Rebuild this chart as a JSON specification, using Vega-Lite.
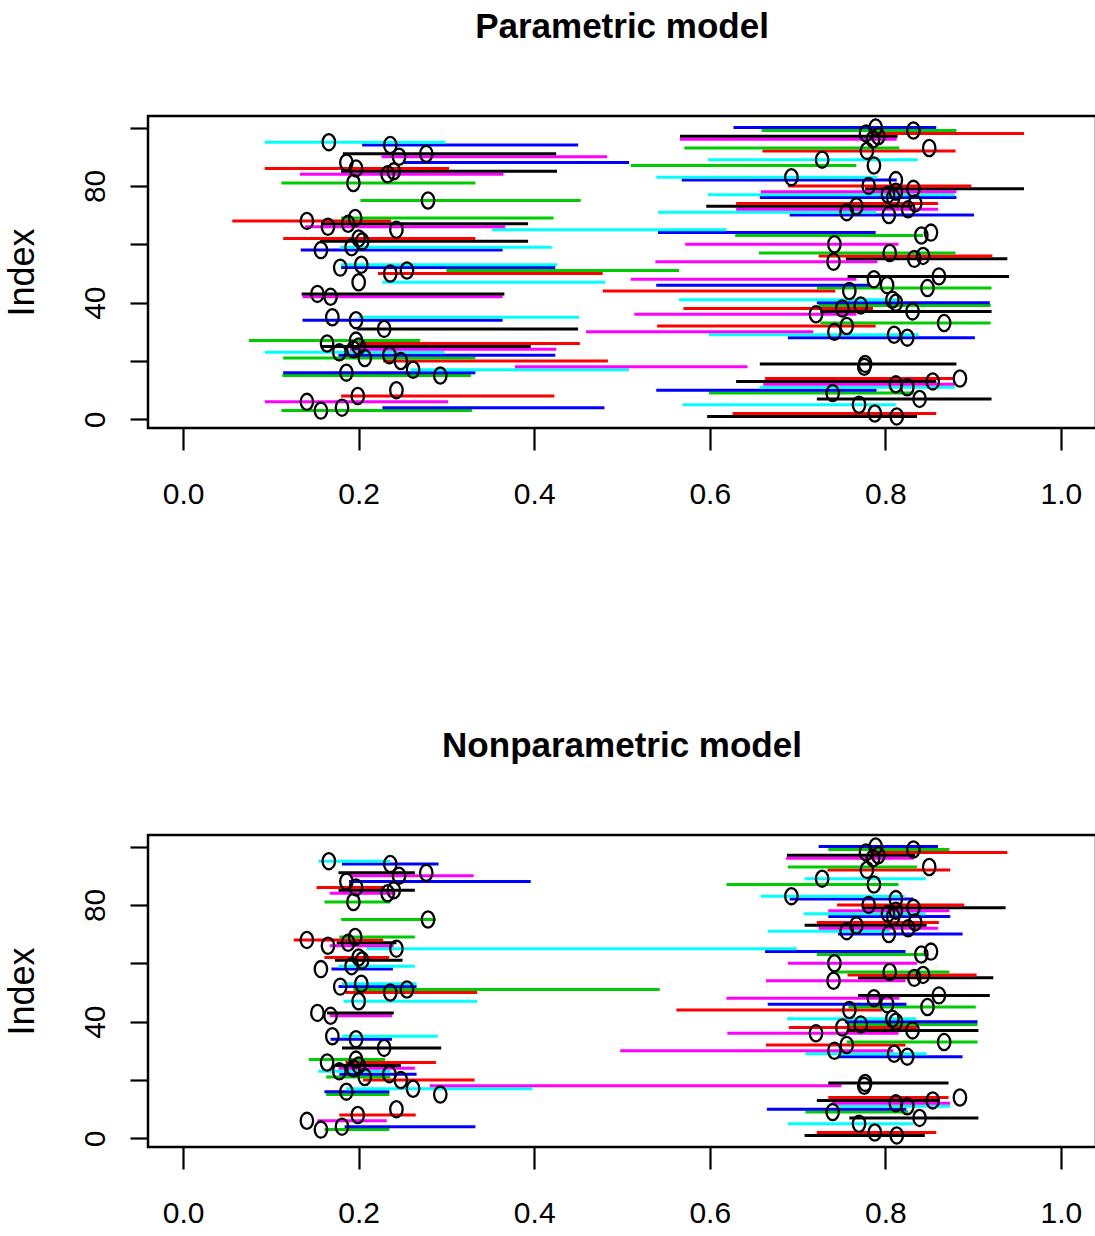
{
  "$schema": "https://vega.github.io/schema/vega-lite/v6.json",
  "background": "white",
  "padding": {"left": 2, "top": 8, "right": 0, "bottom": 0},
  "spacing": 407,
  "bounds": "flush",
  "config": {
    "view": {"stroke": "black", "strokeWidth": 2.5},
    "axis": {"grid": false, "domain": false, "tickColor": "black", "tickWidth": 2.2, "labelColor": "black", "labelFont": "Liberation Sans", "labelFontSize": 30, "titleColor": "black", "labelFlush": false, "labelOverlap": false},
    "title": {"font": "Liberation Sans", "fontSize": 35, "fontWeight": "bold", "color": "black", "anchor": "middle", "baseline": "bottom", "offset": 70}
  },
  "datasets": {
    "ci": [
      {"i":1,"g":1,"est":0.813,"lo1":0.597,"hi1":0.836,"lo2":0.708,"hi2":0.845},
      {"i":2,"g":2,"est":0.788,"lo1":0.626,"hi1":0.858,"lo2":0.722,"hi2":0.858},
      {"i":3,"g":3,"est":0.157,"lo1":0.112,"hi1":0.329,"lo2":0.161,"hi2":0.235},
      {"i":4,"g":4,"est":0.181,"lo1":0.227,"hi1":0.480,"lo2":0.184,"hi2":0.333},
      {"i":5,"g":5,"est":0.770,"lo1":0.569,"hi1":0.812,"lo2":0.689,"hi2":0.832},
      {"i":6,"g":6,"est":0.141,"lo1":0.093,"hi1":0.302,"lo2":0.153,"hi2":0.232},
      {"i":7,"g":1,"est":0.839,"lo1":0.722,"hi1":0.921,"lo2":0.759,"hi2":0.906},
      {"i":8,"g":2,"est":0.199,"lo1":0.180,"hi1":0.423,"lo2":0.178,"hi2":0.265},
      {"i":9,"g":3,"est":0.740,"lo1":0.599,"hi1":0.832,"lo2":0.709,"hi2":0.826},
      {"i":10,"g":4,"est":0.243,"lo1":0.539,"hi1":0.790,"lo2":0.665,"hi2":0.824},
      {"i":11,"g":5,"est":0.825,"lo1":0.657,"hi1":0.879,"lo2":0.745,"hi2":0.874},
      {"i":12,"g":6,"est":0.812,"lo1":0.661,"hi1":0.879,"lo2":0.739,"hi2":0.874},
      {"i":13,"g":1,"est":0.854,"lo1":0.630,"hi1":0.858,"lo2":0.722,"hi2":0.860},
      {"i":14,"g":2,"est":0.885,"lo1":0.663,"hi1":0.879,"lo2":0.735,"hi2":0.872},
      {"i":15,"g":3,"est":0.293,"lo1":0.113,"hi1":0.328,"lo2":0.163,"hi2":0.235},
      {"i":16,"g":4,"est":0.186,"lo1":0.114,"hi1":0.333,"lo2":0.161,"hi2":0.235},
      {"i":17,"g":5,"est":0.262,"lo1":0.259,"hi1":0.508,"lo2":0.186,"hi2":0.398},
      {"i":18,"g":6,"est":0.776,"lo1":0.378,"hi1":0.643,"lo2":0.281,"hi2":0.750},
      {"i":19,"g":1,"est":0.777,"lo1":0.657,"hi1":0.881,"lo2":0.735,"hi2":0.872},
      {"i":20,"g":2,"est":0.248,"lo1":0.228,"hi1":0.484,"lo2":0.205,"hi2":0.332},
      {"i":21,"g":3,"est":0.207,"lo1":0.114,"hi1":0.333,"lo2":0.163,"hi2":0.236},
      {"i":22,"g":4,"est":0.235,"lo1":0.177,"hi1":0.424,"lo2":0.178,"hi2":0.266},
      {"i":23,"g":5,"est":0.178,"lo1":0.093,"hi1":0.298,"lo2":0.154,"hi2":0.236},
      {"i":24,"g":6,"est":0.194,"lo1":0.190,"hi1":0.425,"lo2":0.177,"hi2":0.264},
      {"i":25,"g":1,"est":0.200,"lo1":0.158,"hi1":0.396,"lo2":0.174,"hi2":0.248},
      {"i":26,"g":2,"est":0.164,"lo1":0.200,"hi1":0.452,"lo2":0.185,"hi2":0.288},
      {"i":27,"g":3,"est":0.197,"lo1":0.075,"hi1":0.270,"lo2":0.143,"hi2":0.230},
      {"i":28,"g":4,"est":0.825,"lo1":0.689,"hi1":0.902,"lo2":0.746,"hi2":0.888},
      {"i":29,"g":5,"est":0.810,"lo1":0.599,"hi1":0.838,"lo2":0.709,"hi2":0.847},
      {"i":30,"g":6,"est":0.742,"lo1":0.459,"hi1":0.718,"lo2":0.498,"hi2":0.809},
      {"i":31,"g":1,"est":0.229,"lo1":0.198,"hi1":0.450,"lo2":0.181,"hi2":0.294},
      {"i":32,"g":2,"est":0.756,"lo1":0.540,"hi1":0.789,"lo2":0.664,"hi2":0.823},
      {"i":33,"g":3,"est":0.867,"lo1":0.726,"hi1":0.920,"lo2":0.756,"hi2":0.905},
      {"i":34,"g":4,"est":0.197,"lo1":0.136,"hi1":0.364,"lo2":0.168,"hi2":0.238},
      {"i":35,"g":5,"est":0.170,"lo1":0.200,"hi1":0.451,"lo2":0.181,"hi2":0.290},
      {"i":36,"g":6,"est":0.721,"lo1":0.514,"hi1":0.767,"lo2":0.620,"hi2":0.815},
      {"i":37,"g":1,"est":0.831,"lo1":0.726,"hi1":0.921,"lo2":0.756,"hi2":0.906},
      {"i":38,"g":2,"est":0.751,"lo1":0.570,"hi1":0.786,"lo2":0.690,"hi2":0.836},
      {"i":39,"g":3,"est":0.772,"lo1":0.724,"hi1":0.920,"lo2":0.757,"hi2":0.905},
      {"i":40,"g":4,"est":0.812,"lo1":0.722,"hi1":0.919,"lo2":0.754,"hi2":0.905},
      {"i":41,"g":5,"est":0.808,"lo1":0.565,"hi1":0.815,"lo2":0.688,"hi2":0.835},
      {"i":42,"g":6,"est":0.168,"lo1":0.136,"hi1":0.364,"lo2":0.167,"hi2":0.238},
      {"i":43,"g":1,"est":0.153,"lo1":0.135,"hi1":0.366,"lo2":0.164,"hi2":0.240},
      {"i":44,"g":2,"est":0.759,"lo1":0.478,"hi1":0.743,"lo2":0.562,"hi2":0.796},
      {"i":45,"g":3,"est":0.848,"lo1":0.722,"hi1":0.921,"lo2":0.758,"hi2":0.903},
      {"i":46,"g":4,"est":0.802,"lo1":0.539,"hi1":0.783,"lo2":0.666,"hi2":0.824},
      {"i":47,"g":5,"est":0.200,"lo1":0.227,"hi1":0.481,"lo2":0.183,"hi2":0.335},
      {"i":48,"g":6,"est":0.787,"lo1":0.510,"hi1":0.767,"lo2":0.619,"hi2":0.816},
      {"i":49,"g":1,"est":0.861,"lo1":0.757,"hi1":0.941,"lo2":0.769,"hi2":0.919},
      {"i":50,"g":2,"est":0.236,"lo1":0.222,"hi1":0.478,"lo2":0.185,"hi2":0.335},
      {"i":51,"g":3,"est":0.255,"lo1":0.300,"hi1":0.565,"lo2":0.194,"hi2":0.543},
      {"i":52,"g":4,"est":0.179,"lo1":0.180,"hi1":0.424,"lo2":0.177,"hi2":0.266},
      {"i":53,"g":5,"est":0.203,"lo1":0.180,"hi1":0.426,"lo2":0.181,"hi2":0.266},
      {"i":54,"g":6,"est":0.741,"lo1":0.538,"hi1":0.791,"lo2":0.664,"hi2":0.823},
      {"i":55,"g":1,"est":0.833,"lo1":0.755,"hi1":0.939,"lo2":0.769,"hi2":0.923},
      {"i":56,"g":2,"est":0.843,"lo1":0.724,"hi1":0.922,"lo2":0.757,"hi2":0.904},
      {"i":57,"g":3,"est":0.805,"lo1":0.656,"hi1":0.880,"lo2":0.745,"hi2":0.873},
      {"i":58,"g":4,"est":0.157,"lo1":0.134,"hi1":0.364,"lo2":0.169,"hi2":0.239},
      {"i":59,"g":5,"est":0.192,"lo1":0.179,"hi1":0.420,"lo2":0.177,"hi2":0.264},
      {"i":60,"g":6,"est":0.742,"lo1":0.572,"hi1":0.815,"lo2":0.689,"hi2":0.836},
      {"i":61,"g":1,"est":0.204,"lo1":0.156,"hi1":0.393,"lo2":0.173,"hi2":0.250},
      {"i":62,"g":2,"est":0.200,"lo1":0.114,"hi1":0.333,"lo2":0.161,"hi2":0.235},
      {"i":63,"g":3,"est":0.841,"lo1":0.629,"hi1":0.843,"lo2":0.722,"hi2":0.847},
      {"i":64,"g":4,"est":0.852,"lo1":0.541,"hi1":0.789,"lo2":0.663,"hi2":0.823},
      {"i":65,"g":5,"est":0.243,"lo1":0.352,"hi1":0.619,"lo2":0.209,"hi2":0.699},
      {"i":66,"g":6,"est":0.165,"lo1":0.139,"hi1":0.367,"lo2":0.167,"hi2":0.240},
      {"i":67,"g":1,"est":0.188,"lo1":0.157,"hi1":0.393,"lo2":0.175,"hi2":0.243},
      {"i":68,"g":2,"est":0.141,"lo1":0.056,"hi1":0.237,"lo2":0.126,"hi2":0.228},
      {"i":69,"g":3,"est":0.196,"lo1":0.180,"hi1":0.422,"lo2":0.178,"hi2":0.264},
      {"i":70,"g":4,"est":0.804,"lo1":0.691,"hi1":0.901,"lo2":0.746,"hi2":0.888},
      {"i":71,"g":5,"est":0.756,"lo1":0.541,"hi1":0.790,"lo2":0.666,"hi2":0.805},
      {"i":72,"g":6,"est":0.826,"lo1":0.630,"hi1":0.860,"lo2":0.724,"hi2":0.860},
      {"i":73,"g":1,"est":0.767,"lo1":0.596,"hi1":0.831,"lo2":0.708,"hi2":0.847},
      {"i":74,"g":2,"est":0.834,"lo1":0.630,"hi1":0.860,"lo2":0.722,"hi2":0.861},
      {"i":75,"g":3,"est":0.279,"lo1":0.202,"hi1":0.453,"lo2":0.180,"hi2":0.288},
      {"i":76,"g":4,"est":0.809,"lo1":0.657,"hi1":0.881,"lo2":0.735,"hi2":0.874},
      {"i":77,"g":5,"est":0.803,"lo1":0.598,"hi1":0.879,"lo2":0.707,"hi2":0.846},
      {"i":78,"g":6,"est":0.812,"lo1":0.658,"hi1":0.881,"lo2":0.735,"hi2":0.873},
      {"i":79,"g":1,"est":0.832,"lo1":0.777,"hi1":0.958,"lo2":0.775,"hi2":0.937},
      {"i":80,"g":2,"est":0.781,"lo1":0.689,"hi1":0.898,"lo2":0.745,"hi2":0.890},
      {"i":81,"g":3,"est":0.194,"lo1":0.112,"hi1":0.333,"lo2":0.161,"hi2":0.236},
      {"i":82,"g":4,"est":0.812,"lo1":0.568,"hi1":0.813,"lo2":0.691,"hi2":0.832},
      {"i":83,"g":5,"est":0.693,"lo1":0.539,"hi1":0.791,"lo2":0.658,"hi2":0.822},
      {"i":84,"g":6,"est":0.233,"lo1":0.133,"hi1":0.365,"lo2":0.167,"hi2":0.242},
      {"i":85,"g":1,"est":0.240,"lo1":0.180,"hi1":0.426,"lo2":0.177,"hi2":0.264},
      {"i":86,"g":2,"est":0.197,"lo1":0.093,"hi1":0.303,"lo2":0.152,"hi2":0.230},
      {"i":87,"g":3,"est":0.787,"lo1":0.510,"hi1":0.767,"lo2":0.619,"hi2":0.815},
      {"i":88,"g":4,"est":0.186,"lo1":0.251,"hi1":0.508,"lo2":0.189,"hi2":0.396},
      {"i":89,"g":5,"est":0.728,"lo1":0.598,"hi1":0.837,"lo2":0.708,"hi2":0.846},
      {"i":90,"g":6,"est":0.246,"lo1":0.226,"hi1":0.483,"lo2":0.190,"hi2":0.331},
      {"i":91,"g":1,"est":0.277,"lo1":0.182,"hi1":0.425,"lo2":0.177,"hi2":0.264},
      {"i":92,"g":2,"est":0.779,"lo1":0.660,"hi1":0.880,"lo2":0.734,"hi2":0.874},
      {"i":93,"g":3,"est":0.850,"lo1":0.571,"hi1":0.816,"lo2":0.689,"hi2":0.836},
      {"i":94,"g":4,"est":0.236,"lo1":0.204,"hi1":0.450,"lo2":0.181,"hi2":0.291},
      {"i":95,"g":5,"est":0.166,"lo1":0.093,"hi1":0.299,"lo2":0.154,"hi2":0.236},
      {"i":96,"g":6,"est":0.786,"lo1":0.566,"hi1":0.813,"lo2":0.687,"hi2":0.832},
      {"i":97,"g":1,"est":0.792,"lo1":0.566,"hi1":0.814,"lo2":0.688,"hi2":0.834},
      {"i":98,"g":2,"est":0.778,"lo1":0.783,"hi1":0.958,"lo2":0.783,"hi2":0.939},
      {"i":99,"g":3,"est":0.832,"lo1":0.659,"hi1":0.881,"lo2":0.735,"hi2":0.873},
      {"i":100,"g":4,"est":0.789,"lo1":0.627,"hi1":0.858,"lo2":0.724,"hi2":0.860}
    ]
  },
  "vconcat": [
    {
      "title": "Parametric model",
      "width": 948,
      "height": 312,
      "data": {"name": "ci"},
      "encoding": {
        "y": {"field": "i", "type": "quantitative",
              "scale": {"domain": [-2.96, 103.96], "nice": false, "zero": false},
              "axis": {"values": [0, 20, 40, 60, 80, 100], "labelExpr": "datum.value % 40 == 0 ? datum.label : ''", "title": "Index", "tickSize": 18, "labelAngle": -90, "labelAlign": "center", "labelBaseline": "alphabetic", "labelPadding": 26, "titleFont": "Liberation Sans", "titleFontSize": 36, "titleFontWeight": "normal", "titleAngle": -90, "titleX": -126, "titleY": 156, "titleAlign": "center", "titleBaseline": "middle"}}
      },
      "layer": [
        {
          "mark": {"type": "rule", "strokeWidth": 3},
          "encoding": {
            "x": {"field": "lo1", "type": "quantitative",
                  "scale": {"domain": [-0.04, 1.04], "nice": false, "zero": false},
                  "axis": {"values": [0, 0.2, 0.4, 0.6, 0.8, 1], "format": ".1f", "title": null, "tickSize": 22, "labelPadding": 29}},
            "x2": {"field": "hi1"},
            "color": {"field": "g", "type": "nominal", "scale": {"domain": [1, 2, 3, 4, 5, 6], "range": ["#000000", "#FF0000", "#00CD00", "#0000FF", "#00FFFF", "#FF00FF"]}, "legend": null}
          }
        },
        {
          "mark": {"type": "point", "shape": "M0,-1.3A1,1.3 0 1,1 0,1.3A1,1.3 0 1,1 0,-1.3Z", "filled": false, "stroke": "black", "strokeWidth": 2.3, "size": 155, "opacity": 1},
          "encoding": {
            "x": {"field": "est", "type": "quantitative",
                  "scale": {"domain": [-0.04, 1.04], "nice": false, "zero": false},
                  "axis": {"values": [0, 0.2, 0.4, 0.6, 0.8, 1], "format": ".1f", "title": null, "tickSize": 22, "labelPadding": 29}}
          }
        }
      ]
    },
    {
      "title": "Nonparametric model",
      "width": 948,
      "height": 312,
      "data": {"name": "ci"},
      "encoding": {
        "y": {"field": "i", "type": "quantitative",
              "scale": {"domain": [-2.96, 103.96], "nice": false, "zero": false},
              "axis": {"values": [0, 20, 40, 60, 80, 100], "labelExpr": "datum.value % 40 == 0 ? datum.label : ''", "title": "Index", "tickSize": 18, "labelAngle": -90, "labelAlign": "center", "labelBaseline": "alphabetic", "labelPadding": 26, "titleFont": "Liberation Sans", "titleFontSize": 36, "titleFontWeight": "normal", "titleAngle": -90, "titleX": -126, "titleY": 156, "titleAlign": "center", "titleBaseline": "middle"}}
      },
      "layer": [
        {
          "mark": {"type": "rule", "strokeWidth": 3},
          "encoding": {
            "x": {"field": "lo2", "type": "quantitative",
                  "scale": {"domain": [-0.04, 1.04], "nice": false, "zero": false},
                  "axis": {"values": [0, 0.2, 0.4, 0.6, 0.8, 1], "format": ".1f", "title": null, "tickSize": 22, "labelPadding": 29}},
            "x2": {"field": "hi2"},
            "color": {"field": "g", "type": "nominal", "scale": {"domain": [1, 2, 3, 4, 5, 6], "range": ["#000000", "#FF0000", "#00CD00", "#0000FF", "#00FFFF", "#FF00FF"]}, "legend": null}
          }
        },
        {
          "mark": {"type": "point", "shape": "M0,-1.3A1,1.3 0 1,1 0,1.3A1,1.3 0 1,1 0,-1.3Z", "filled": false, "stroke": "black", "strokeWidth": 2.3, "size": 155, "opacity": 1},
          "encoding": {
            "x": {"field": "est", "type": "quantitative",
                  "scale": {"domain": [-0.04, 1.04], "nice": false, "zero": false},
                  "axis": {"values": [0, 0.2, 0.4, 0.6, 0.8, 1], "format": ".1f", "title": null, "tickSize": 22, "labelPadding": 29}}
          }
        }
      ]
    }
  ]
}
